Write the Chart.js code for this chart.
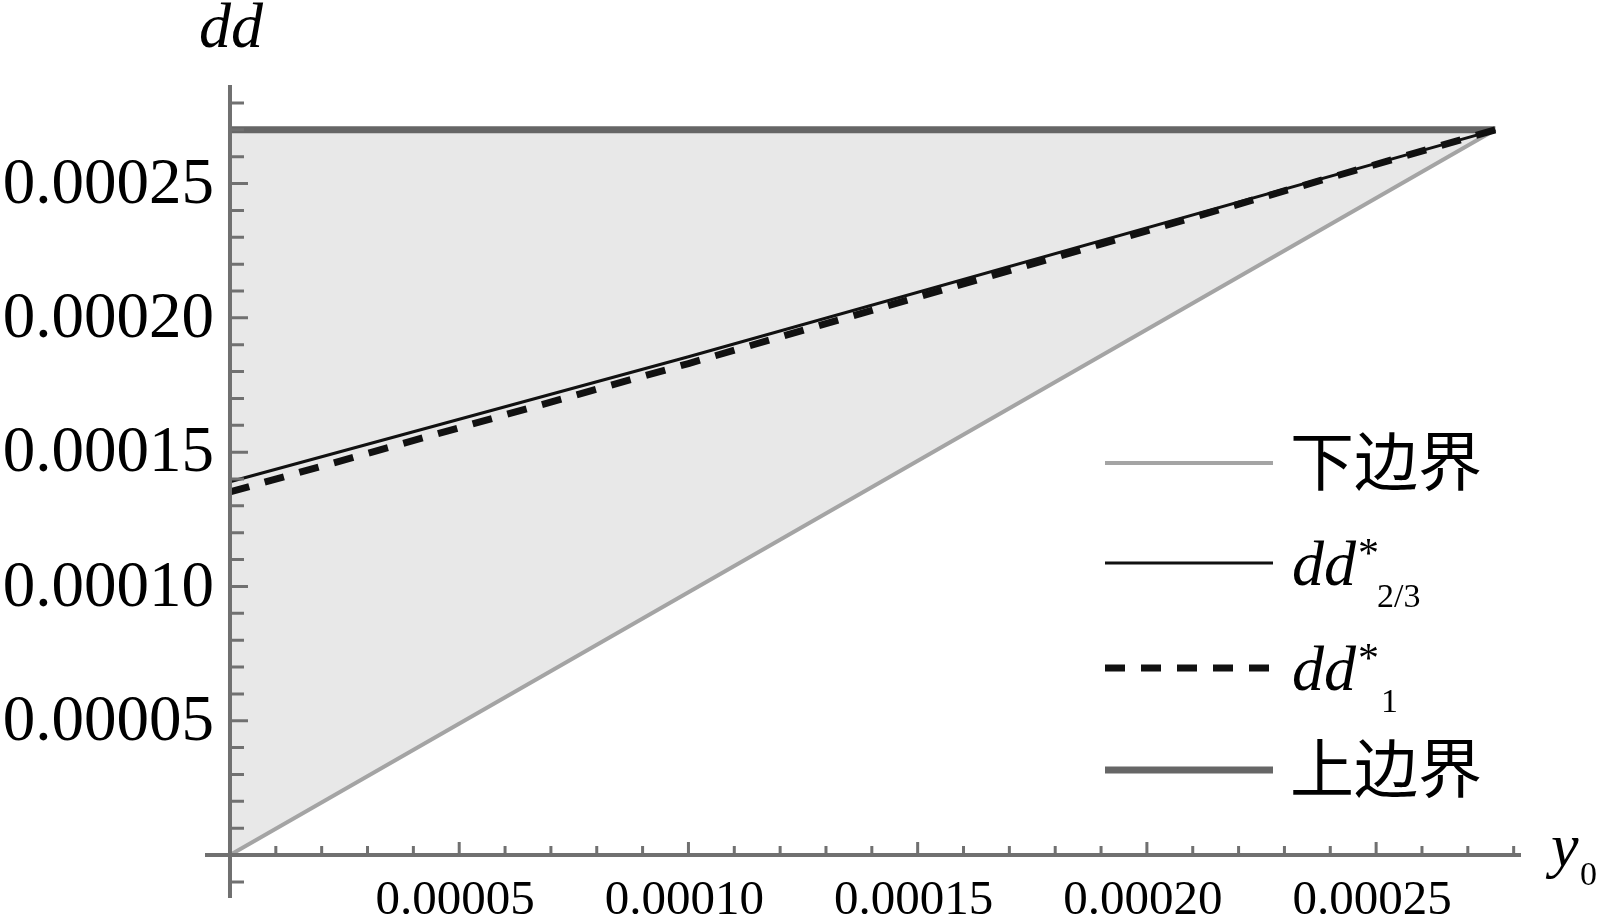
<!DOCTYPE html>
<html>
<head>
<meta charset="utf-8">
<script src="https://cdn.jsdelivr.net/npm/chart.js@4.4.1/dist/chart.umd.min.js"></script>
<style>
  html, body { margin: 0; padding: 0; background: #fff; }
  canvas { display: block; }
</style>
</head>
<body>
<canvas id="chart" width="1599" height="914"></canvas>
<script>
// values
const xPts = [0, 0.0001, 0.000276];
const lowerY = [0, 0.0000978, 0.00027];       // 下边界
const dd23Y = [0.000139, 0.0001855, 0.00027];  // dd*_{2/3}
const dd1Y = [0.0001352, 0.000183, 0.00027];   // dd*_1
const upperY = [0.00027, 0.00027, 0.00027];    // 上边界

const xTickLabels = ['0.00005', '0.00010', '0.00015', '0.00020', '0.00025'];
const xTickValues = [0.00005, 0.00010, 0.00015, 0.00020, 0.00025];
const yTickLabels = ['0.00005', '0.00010', '0.00015', '0.00020', '0.00025'];
const yTickValues = [0.00005, 0.00010, 0.00015, 0.00020, 0.00025];

const legendNames = ['下边界', 'dd', 'dd', '上边界'];
const legendSubs = ['', '2/3', '1', ''];

const pts = ys => ys.map((y, i) => ({ x: xPts[i], y }));

const serif = '"Liberation Serif", "DejaVu Serif", serif';
const cjk = '"Noto Sans CJK SC", sans-serif';

// axes, ticks, labels, titles and the legend are drawn here
const axesPlugin = {
    id: 'axesPlugin',
    afterDatasetsDraw: (chart) => {
        const ctx = chart.ctx;
        const xs = chart.scales.x, ys = chart.scales.y;
        const x0 = xs.getPixelForValue(0), y0 = ys.getPixelForValue(0);
        ctx.save();
        ctx.strokeStyle = '#707070';
        ctx.lineCap = 'butt';

        // axis lines
        ctx.lineWidth = 4;
        ctx.beginPath();
        ctx.moveTo(xs.left, y0); ctx.lineTo(xs.right, y0);
        ctx.moveTo(x0, ys.bottom); ctx.lineTo(x0, ys.top);
        ctx.stroke();

        // ticks
        ctx.lineWidth = 3;
        ctx.beginPath();
        for (let i = 1; i <= 28; i++) {
            const px = xs.getPixelForValue(i * 0.00001);
            const len = i % 5 === 0 ? 13 : 9;
            ctx.moveTo(px, y0); ctx.lineTo(px, y0 - len);
        }
        for (let i = -1; i <= 28; i++) {
            if (i === 0) continue;
            const py = ys.getPixelForValue(i * 0.00001);
            const len = i % 5 === 0 ? 18 : 14;
            ctx.moveTo(x0, py); ctx.lineTo(x0 + len, py);
        }
        ctx.stroke();

        // tick labels
        ctx.fillStyle = '#000';
        ctx.font = '49px ' + serif;
        ctx.textAlign = 'center'; ctx.textBaseline = 'top';
        xTickValues.forEach((v, i) => ctx.fillText(xTickLabels[i], xs.getPixelForValue(v) - 4, y0 + 22));
        ctx.font = '65px ' + serif;
        ctx.textAlign = 'right'; ctx.textBaseline = 'middle';
        yTickValues.forEach((v, i) => ctx.fillText(yTickLabels[i], x0 - 16, ys.getPixelForValue(v) + 2));

        // axis titles
        ctx.textAlign = 'left'; ctx.textBaseline = 'alphabetic';
        ctx.font = 'italic 64px ' + serif;
        ctx.fillText('dd', 199, 47);
        ctx.font = 'italic 62px ' + serif;
        ctx.fillText('y', 1551, 866);
        ctx.font = '34px ' + serif;
        ctx.fillText('0', 1580, 885);

        // legend
        const rows = [463, 563, 668, 770];
        chart.data.datasets.forEach((ds, i) => {
            const ry = rows[i];
            ctx.strokeStyle = ds.borderColor;
            ctx.lineWidth = ds.borderWidth;
            ctx.setLineDash(ds.borderDash || []);
            ctx.beginPath();
            ctx.moveTo(1105, ry); ctx.lineTo(1273, ry);
            ctx.stroke();
            ctx.setLineDash([]);
            ctx.fillStyle = '#000';
            if (legendSubs[i] === '') {
                ctx.font = '64px ' + cjk;
                ctx.textBaseline = 'middle';
                ctx.fillText(legendNames[i], 1290, ry - 2);
                ctx.textBaseline = 'alphabetic';
            } else {
                const base = ry + 22;
                ctx.font = 'italic 64px ' + serif;
                ctx.fillText(legendNames[i], 1292, base);
                ctx.font = '42px ' + serif;
                ctx.fillText('*', 1358, base - 18);
                ctx.font = '34px ' + serif;
                ctx.fillText(legendSubs[i], legendSubs[i].length > 1 ? 1377 : 1381, base + 22);
            }
        });
        ctx.restore();
    }
};

new Chart(document.getElementById('chart'), {
    type: 'line',
    data: {
        datasets: [
            { label: '下边界', data: pts(lowerY), borderColor: '#a4a4a4', borderWidth: 4, fill: 3, backgroundColor: '#e8e8e8', order: 4 },
            { label: 'dd*2/3', data: pts(dd23Y), borderColor: '#111111', borderWidth: 3, fill: false, order: 1 },
            { label: 'dd*1', data: pts(dd1Y), borderColor: '#111111', borderWidth: 7, borderDash: [20, 16], fill: false, order: 2 },
            { label: '上边界', data: pts(upperY), borderColor: '#666666', borderWidth: 7, fill: false, order: 3 }
        ]
    },
    options: {
        responsive: false,
        animation: false,
        devicePixelRatio: 1,
        layout: { padding: { left: 205, right: 78, top: 85, bottom: 16 } },
        elements: { point: { radius: 0 }, line: { tension: 0 } },
        plugins: { legend: { display: false }, tooltip: { enabled: false } },
        scales: {
            x: { type: 'linear', display: false, min: -0.00000545, max: 0.0002816 },
            y: { type: 'linear', display: false, min: -0.000016, max: 0.0002867 }
        }
    },
    plugins: [axesPlugin]
});
</script>
</body>
</html>
